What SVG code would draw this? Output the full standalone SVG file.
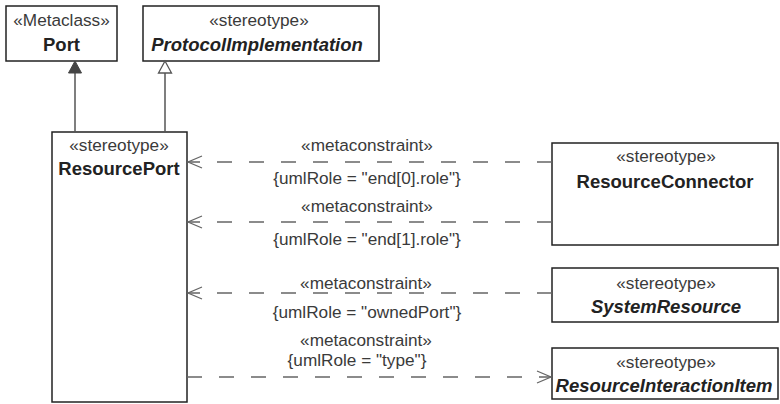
<svg xmlns="http://www.w3.org/2000/svg" width="780" height="404" viewBox="0 0 780 404">
<defs>
<style>
.box{fill:#fff;stroke:#222;stroke-width:1.5}
.t{font-family:"Liberation Sans",Arial,sans-serif;font-size:17.2px;fill:#3a3a3a;text-anchor:middle}
.n{font-family:"Liberation Sans",Arial,sans-serif;font-size:18.5px;font-weight:bold;fill:#222;text-anchor:middle}
.i{font-style:italic}
.gen{stroke:#555;stroke-width:1.5;fill:none}
.dep{stroke:#666;stroke-width:1.3;fill:none;stroke-dasharray:15 17}
</style>
<marker id="open" viewBox="0 0 16 14" refX="15" refY="7" markerWidth="16" markerHeight="14" markerUnits="userSpaceOnUse" orient="auto">
<path d="M1,1 L15,7 L1,13" fill="none" stroke="#666" stroke-width="1.3"/>
</marker>
</defs>
<g id="Port">
<rect class="box" x="6" y="6" width="111" height="55"/>
<text class="t" x="61.5" y="26">«Metaclass»</text>
<text class="n" x="61.5" y="51">Port</text>
</g>
<g id="ProtocolImplementation">
<rect class="box" x="143" y="6" width="236" height="55"/>
<text class="t" x="259" y="26">«stereotype»</text>
<text class="n i" x="257" y="51">ProtocolImplementation</text>
</g>
<g id="ResourcePort">
<rect class="box" x="52" y="132" width="135" height="270"/>
<text class="t" x="119" y="151">«stereotype»</text>
<text class="n" x="119" y="175">ResourcePort</text>
</g>
<g id="ResourceConnector">
<rect class="box" x="552" y="143" width="226" height="102"/>
<text class="t" x="666" y="162">«stereotype»</text>
<text class="n" x="665" y="188">ResourceConnector</text>
</g>
<g id="SystemResource">
<rect class="box" x="552" y="268" width="226" height="54"/>
<text class="t" x="666" y="289">«stereotype»</text>
<text class="n i" x="666" y="313">SystemResource</text>
</g>
<g id="ResourceInteractionItem">
<rect class="box" x="552" y="348" width="226" height="51"/>
<text class="t" x="666" y="368">«stereotype»</text>
<text class="n i" x="664" y="392">ResourceInteractionItem</text>
</g>
<g id="connectors">
<line class="gen" x1="75" y1="132" x2="75" y2="72"/>
<path d="M75,61 L68.5,73 L81.5,73 Z" fill="#444" stroke="#444" stroke-width="1"/>
<line class="gen" x1="165" y1="132" x2="165" y2="73"/>
<path d="M165,61 L158.5,73 L171.5,73 Z" fill="#fff" stroke="#555" stroke-width="1.3"/>
<line class="dep" x1="552" y1="162" x2="188" y2="162" marker-end="url(#open)"/>
<line class="dep" x1="552" y1="222" x2="188" y2="222" marker-end="url(#open)"/>
<line class="dep" x1="552" y1="293" x2="188" y2="293" marker-end="url(#open)"/>
<line class="dep" x1="187" y1="377" x2="551" y2="377" marker-end="url(#open)"/>
<text class="t" x="367" y="151">«metaconstraint»</text>
<text class="t" x="367" y="184">{umlRole = "end[0].role"}</text>
<text class="t" x="367" y="212">«metaconstraint»</text>
<text class="t" x="367" y="245">{umlRole = "end[1].role"}</text>
<text class="t" x="366" y="289">«metaconstraint»</text>
<text class="t" x="367" y="318">{umlRole = "ownedPort"}</text>
<text class="t" x="366" y="346">«metaconstraint»</text>
<text class="t" x="357" y="366">{umlRole = "type"}</text>
</g>
</svg>
